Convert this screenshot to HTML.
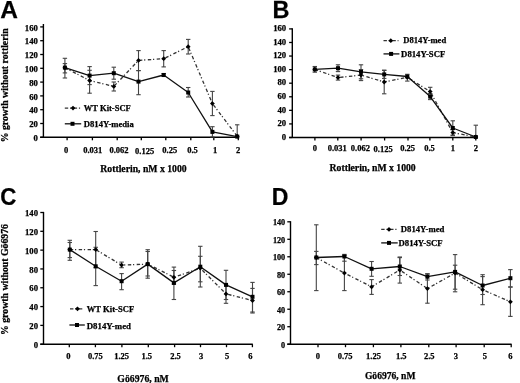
<!DOCTYPE html>
<html><head><meta charset="utf-8"><style>
html,body{margin:0;padding:0;background:#fff;}
body{width:520px;height:383px;overflow:hidden;font-family:"Liberation Serif", serif;}
svg{display:block;will-change:transform;filter:blur(0.3px);}
</style></head><body>
<svg width="520" height="383" viewBox="0 0 520 383">
<rect width="520" height="383" fill="#fff"/>
<line x1="43.40" y1="24.00" x2="43.40" y2="137.80" stroke="#000" stroke-width="1.4"/>
<line x1="40.20" y1="137.30" x2="238.80" y2="137.30" stroke="#000" stroke-width="1.4"/>
<line x1="40.20" y1="137.30" x2="43.40" y2="137.30" stroke="#000" stroke-width="1.3"/>
<text x="37.90" y="140.90" font-family='"Liberation Serif", serif' font-size="8.7" font-weight="bold" text-anchor="end" stroke="#000" stroke-width="0.25">0</text>
<line x1="40.20" y1="123.50" x2="43.40" y2="123.50" stroke="#000" stroke-width="1.3"/>
<text x="37.90" y="127.10" font-family='"Liberation Serif", serif' font-size="8.7" font-weight="bold" text-anchor="end" stroke="#000" stroke-width="0.25">20</text>
<line x1="40.20" y1="109.70" x2="43.40" y2="109.70" stroke="#000" stroke-width="1.3"/>
<text x="37.90" y="113.30" font-family='"Liberation Serif", serif' font-size="8.7" font-weight="bold" text-anchor="end" stroke="#000" stroke-width="0.25">40</text>
<line x1="40.20" y1="95.90" x2="43.40" y2="95.90" stroke="#000" stroke-width="1.3"/>
<text x="37.90" y="99.50" font-family='"Liberation Serif", serif' font-size="8.7" font-weight="bold" text-anchor="end" stroke="#000" stroke-width="0.25">60</text>
<line x1="40.20" y1="82.10" x2="43.40" y2="82.10" stroke="#000" stroke-width="1.3"/>
<text x="37.90" y="85.70" font-family='"Liberation Serif", serif' font-size="8.7" font-weight="bold" text-anchor="end" stroke="#000" stroke-width="0.25">80</text>
<line x1="40.20" y1="68.30" x2="43.40" y2="68.30" stroke="#000" stroke-width="1.3"/>
<text x="37.90" y="71.90" font-family='"Liberation Serif", serif' font-size="8.7" font-weight="bold" text-anchor="end" stroke="#000" stroke-width="0.25">100</text>
<line x1="40.20" y1="54.50" x2="43.40" y2="54.50" stroke="#000" stroke-width="1.3"/>
<text x="37.90" y="58.10" font-family='"Liberation Serif", serif' font-size="8.7" font-weight="bold" text-anchor="end" stroke="#000" stroke-width="0.25">120</text>
<line x1="40.20" y1="40.70" x2="43.40" y2="40.70" stroke="#000" stroke-width="1.3"/>
<text x="37.90" y="44.30" font-family='"Liberation Serif", serif' font-size="8.7" font-weight="bold" text-anchor="end" stroke="#000" stroke-width="0.25">140</text>
<line x1="40.20" y1="26.90" x2="43.40" y2="26.90" stroke="#000" stroke-width="1.3"/>
<text x="37.90" y="30.50" font-family='"Liberation Serif", serif' font-size="8.7" font-weight="bold" text-anchor="end" stroke="#000" stroke-width="0.25">160</text>
<line x1="67.10" y1="137.30" x2="67.10" y2="140.30" stroke="#000" stroke-width="1.3"/>
<line x1="92.40" y1="137.30" x2="92.40" y2="140.30" stroke="#000" stroke-width="1.3"/>
<line x1="117.20" y1="137.30" x2="117.20" y2="140.30" stroke="#000" stroke-width="1.3"/>
<line x1="141.30" y1="137.30" x2="141.30" y2="140.30" stroke="#000" stroke-width="1.3"/>
<line x1="165.80" y1="137.30" x2="165.80" y2="140.30" stroke="#000" stroke-width="1.3"/>
<line x1="190.80" y1="137.30" x2="190.80" y2="140.30" stroke="#000" stroke-width="1.3"/>
<line x1="213.80" y1="137.30" x2="213.80" y2="140.30" stroke="#000" stroke-width="1.3"/>
<line x1="238.30" y1="137.30" x2="238.30" y2="140.30" stroke="#000" stroke-width="1.3"/>
<text x="66.00" y="152.80" font-family='"Liberation Serif", serif' font-size="8.5" font-weight="bold" text-anchor="middle" stroke="#000" stroke-width="0.25">0</text>
<text x="92.70" y="152.80" font-family='"Liberation Serif", serif' font-size="8.5" font-weight="bold" text-anchor="middle" stroke="#000" stroke-width="0.25">0.031</text>
<text x="119.00" y="152.80" font-family='"Liberation Serif", serif' font-size="8.5" font-weight="bold" text-anchor="middle" stroke="#000" stroke-width="0.25">0.062</text>
<text x="144.60" y="153.70" font-family='"Liberation Serif", serif' font-size="8.5" font-weight="bold" text-anchor="middle" stroke="#000" stroke-width="0.25">0.125</text>
<text x="169.80" y="152.80" font-family='"Liberation Serif", serif' font-size="8.5" font-weight="bold" text-anchor="middle" stroke="#000" stroke-width="0.25">0.25</text>
<text x="192.50" y="152.80" font-family='"Liberation Serif", serif' font-size="8.5" font-weight="bold" text-anchor="middle" stroke="#000" stroke-width="0.25">0.5</text>
<text x="215.00" y="152.80" font-family='"Liberation Serif", serif' font-size="8.5" font-weight="bold" text-anchor="middle" stroke="#000" stroke-width="0.25">1</text>
<text x="238.00" y="152.80" font-family='"Liberation Serif", serif' font-size="8.5" font-weight="bold" text-anchor="middle" stroke="#000" stroke-width="0.25">2</text>
<line x1="64.90" y1="58.30" x2="64.90" y2="78.00" stroke="#444" stroke-width="1.1"/>
<line x1="62.70" y1="58.30" x2="67.10" y2="58.30" stroke="#444" stroke-width="1.1"/>
<line x1="62.70" y1="78.00" x2="67.10" y2="78.00" stroke="#444" stroke-width="1.1"/>
<line x1="64.90" y1="63.60" x2="64.90" y2="72.90" stroke="#444" stroke-width="1.1"/>
<line x1="62.70" y1="63.60" x2="67.10" y2="63.60" stroke="#444" stroke-width="1.1"/>
<line x1="62.70" y1="72.90" x2="67.10" y2="72.90" stroke="#444" stroke-width="1.1"/>
<line x1="89.60" y1="66.60" x2="89.60" y2="84.60" stroke="#444" stroke-width="1.1"/>
<line x1="87.40" y1="66.60" x2="91.80" y2="66.60" stroke="#444" stroke-width="1.1"/>
<line x1="87.40" y1="84.60" x2="91.80" y2="84.60" stroke="#444" stroke-width="1.1"/>
<line x1="89.60" y1="70.30" x2="89.60" y2="93.20" stroke="#444" stroke-width="1.1"/>
<line x1="87.40" y1="70.30" x2="91.80" y2="70.30" stroke="#444" stroke-width="1.1"/>
<line x1="87.40" y1="93.20" x2="91.80" y2="93.20" stroke="#444" stroke-width="1.1"/>
<line x1="113.80" y1="67.20" x2="113.80" y2="79.20" stroke="#444" stroke-width="1.1"/>
<line x1="111.60" y1="67.20" x2="116.00" y2="67.20" stroke="#444" stroke-width="1.1"/>
<line x1="111.60" y1="79.20" x2="116.00" y2="79.20" stroke="#444" stroke-width="1.1"/>
<line x1="113.80" y1="82.00" x2="113.80" y2="91.00" stroke="#444" stroke-width="1.1"/>
<line x1="111.60" y1="82.00" x2="116.00" y2="82.00" stroke="#444" stroke-width="1.1"/>
<line x1="111.60" y1="91.00" x2="116.00" y2="91.00" stroke="#444" stroke-width="1.1"/>
<line x1="138.50" y1="50.60" x2="138.50" y2="70.60" stroke="#444" stroke-width="1.1"/>
<line x1="136.30" y1="50.60" x2="140.70" y2="50.60" stroke="#444" stroke-width="1.1"/>
<line x1="136.30" y1="70.60" x2="140.70" y2="70.60" stroke="#444" stroke-width="1.1"/>
<line x1="138.50" y1="70.60" x2="138.50" y2="94.70" stroke="#444" stroke-width="1.1"/>
<line x1="136.30" y1="70.60" x2="140.70" y2="70.60" stroke="#444" stroke-width="1.1"/>
<line x1="136.30" y1="94.70" x2="140.70" y2="94.70" stroke="#444" stroke-width="1.1"/>
<line x1="163.70" y1="50.60" x2="163.70" y2="66.90" stroke="#444" stroke-width="1.1"/>
<line x1="161.50" y1="50.60" x2="165.90" y2="50.60" stroke="#444" stroke-width="1.1"/>
<line x1="161.50" y1="66.90" x2="165.90" y2="66.90" stroke="#444" stroke-width="1.1"/>
<line x1="163.70" y1="73.50" x2="163.70" y2="76.50" stroke="#444" stroke-width="1.1"/>
<line x1="161.50" y1="73.50" x2="165.90" y2="73.50" stroke="#444" stroke-width="1.1"/>
<line x1="161.50" y1="76.50" x2="165.90" y2="76.50" stroke="#444" stroke-width="1.1"/>
<line x1="188.20" y1="39.40" x2="188.20" y2="54.00" stroke="#444" stroke-width="1.1"/>
<line x1="186.00" y1="39.40" x2="190.40" y2="39.40" stroke="#444" stroke-width="1.1"/>
<line x1="186.00" y1="54.00" x2="190.40" y2="54.00" stroke="#444" stroke-width="1.1"/>
<line x1="188.20" y1="87.50" x2="188.20" y2="97.00" stroke="#444" stroke-width="1.1"/>
<line x1="186.00" y1="87.50" x2="190.40" y2="87.50" stroke="#444" stroke-width="1.1"/>
<line x1="186.00" y1="97.00" x2="190.40" y2="97.00" stroke="#444" stroke-width="1.1"/>
<line x1="212.40" y1="91.40" x2="212.40" y2="115.60" stroke="#444" stroke-width="1.1"/>
<line x1="210.20" y1="91.40" x2="214.60" y2="91.40" stroke="#444" stroke-width="1.1"/>
<line x1="210.20" y1="115.60" x2="214.60" y2="115.60" stroke="#444" stroke-width="1.1"/>
<line x1="212.40" y1="126.70" x2="212.40" y2="137.00" stroke="#444" stroke-width="1.1"/>
<line x1="210.20" y1="126.70" x2="214.60" y2="126.70" stroke="#444" stroke-width="1.1"/>
<line x1="210.20" y1="137.00" x2="214.60" y2="137.00" stroke="#444" stroke-width="1.1"/>
<line x1="237.20" y1="124.80" x2="237.20" y2="137.00" stroke="#444" stroke-width="1.1"/>
<line x1="235.00" y1="124.80" x2="239.40" y2="124.80" stroke="#444" stroke-width="1.1"/>
<line x1="235.00" y1="137.00" x2="239.40" y2="137.00" stroke="#444" stroke-width="1.1"/>
<polyline points="64.90,67.80 89.60,80.50 113.80,86.40 138.50,60.40 163.70,58.70 188.20,46.70 212.40,103.60 237.20,136.20" fill="none" stroke="#333" stroke-width="1.3" stroke-dasharray="3.4,1.8,1.2,2.5" stroke-linejoin="round"/>
<polyline points="64.90,67.60 89.60,75.60 113.80,73.20 138.50,81.60 163.70,75.00 188.20,92.50 212.40,131.90 237.20,136.60" fill="none" stroke="#111" stroke-width="1.3" stroke-linejoin="round"/>
<path d="M64.90 65.40L67.30 67.80L64.90 70.20L62.50 67.80Z" fill="#000"/>
<path d="M89.60 78.10L92.00 80.50L89.60 82.90L87.20 80.50Z" fill="#000"/>
<path d="M113.80 84.00L116.20 86.40L113.80 88.80L111.40 86.40Z" fill="#000"/>
<path d="M138.50 58.00L140.90 60.40L138.50 62.80L136.10 60.40Z" fill="#000"/>
<path d="M163.70 56.30L166.10 58.70L163.70 61.10L161.30 58.70Z" fill="#000"/>
<path d="M188.20 44.30L190.60 46.70L188.20 49.10L185.80 46.70Z" fill="#000"/>
<path d="M212.40 101.20L214.80 103.60L212.40 106.00L210.00 103.60Z" fill="#000"/>
<path d="M237.20 133.80L239.60 136.20L237.20 138.60L234.80 136.20Z" fill="#000"/>
<rect x="62.90" y="65.60" width="4.0" height="4.0" fill="#000"/>
<rect x="87.60" y="73.60" width="4.0" height="4.0" fill="#000"/>
<rect x="111.80" y="71.20" width="4.0" height="4.0" fill="#000"/>
<rect x="136.50" y="79.60" width="4.0" height="4.0" fill="#000"/>
<rect x="161.70" y="73.00" width="4.0" height="4.0" fill="#000"/>
<rect x="186.20" y="90.50" width="4.0" height="4.0" fill="#000"/>
<rect x="210.40" y="129.90" width="4.0" height="4.0" fill="#000"/>
<rect x="235.20" y="134.60" width="4.0" height="4.0" fill="#000"/>
<line x1="64.80" y1="108.10" x2="81.20" y2="108.10" stroke="#333" stroke-width="1.3" stroke-dasharray="3.4,1.8,1.2,2.5"/>
<path d="M73.00 105.70L75.40 108.10L73.00 110.50L70.60 108.10Z" fill="#000"/>
<text x="83.80" y="110.50" font-family='"Liberation Serif", serif' font-size="9.1" font-weight="bold" text-anchor="start" textLength="47" lengthAdjust="spacingAndGlyphs" stroke="#000" stroke-width="0.25">WT Kit-SCF</text>
<line x1="64.80" y1="123.80" x2="81.20" y2="123.80" stroke="#111" stroke-width="1.3"/>
<rect x="70.50" y="121.80" width="4.0" height="4.0" fill="#000"/>
<text x="83.80" y="126.70" font-family='"Liberation Serif", serif' font-size="9.1" font-weight="bold" text-anchor="start" textLength="50" lengthAdjust="spacingAndGlyphs" stroke="#000" stroke-width="0.25">D814Y-media</text>
<text x="100.30" y="172.30" font-family='"Liberation Serif", serif' font-size="10" font-weight="bold" text-anchor="start" textLength="86.3" lengthAdjust="spacingAndGlyphs" stroke="#000" stroke-width="0.25">Rottlerin, nM x 1000</text>
<text transform="translate(7.70,142.30) rotate(-90)" font-family='"Liberation Serif", serif' font-size="10" font-weight="bold" stroke="#000" stroke-width="0.25" textLength="114" lengthAdjust="spacingAndGlyphs">% growth without rottlerin</text>
<text transform="translate(0.20,18.00) scale(1.0,1)" font-family='"Liberation Sans", sans-serif' font-size="24.5" font-weight="bold" stroke="#000" stroke-width="0.25">A</text>
<line x1="292.30" y1="28.30" x2="292.30" y2="138.00" stroke="#000" stroke-width="1.4"/>
<line x1="289.10" y1="137.50" x2="476.30" y2="137.50" stroke="#000" stroke-width="1.4"/>
<line x1="289.10" y1="137.50" x2="292.30" y2="137.50" stroke="#000" stroke-width="1.3"/>
<text x="286.20" y="139.70" font-family='"Liberation Serif", serif' font-size="8.7" font-weight="bold" text-anchor="end" stroke="#000" stroke-width="0.25">0</text>
<line x1="289.10" y1="123.92" x2="292.30" y2="123.92" stroke="#000" stroke-width="1.3"/>
<text x="286.20" y="126.12" font-family='"Liberation Serif", serif' font-size="8.7" font-weight="bold" text-anchor="end" stroke="#000" stroke-width="0.25">20</text>
<line x1="289.10" y1="110.35" x2="292.30" y2="110.35" stroke="#000" stroke-width="1.3"/>
<text x="286.20" y="112.55" font-family='"Liberation Serif", serif' font-size="8.7" font-weight="bold" text-anchor="end" stroke="#000" stroke-width="0.25">40</text>
<line x1="289.10" y1="96.78" x2="292.30" y2="96.78" stroke="#000" stroke-width="1.3"/>
<text x="286.20" y="98.98" font-family='"Liberation Serif", serif' font-size="8.7" font-weight="bold" text-anchor="end" stroke="#000" stroke-width="0.25">60</text>
<line x1="289.10" y1="83.20" x2="292.30" y2="83.20" stroke="#000" stroke-width="1.3"/>
<text x="286.20" y="85.40" font-family='"Liberation Serif", serif' font-size="8.7" font-weight="bold" text-anchor="end" stroke="#000" stroke-width="0.25">80</text>
<line x1="289.10" y1="69.62" x2="292.30" y2="69.62" stroke="#000" stroke-width="1.3"/>
<text x="286.20" y="71.83" font-family='"Liberation Serif", serif' font-size="8.7" font-weight="bold" text-anchor="end" stroke="#000" stroke-width="0.25">100</text>
<line x1="289.10" y1="56.05" x2="292.30" y2="56.05" stroke="#000" stroke-width="1.3"/>
<text x="286.20" y="58.25" font-family='"Liberation Serif", serif' font-size="8.7" font-weight="bold" text-anchor="end" stroke="#000" stroke-width="0.25">120</text>
<line x1="289.10" y1="42.48" x2="292.30" y2="42.48" stroke="#000" stroke-width="1.3"/>
<text x="286.20" y="44.68" font-family='"Liberation Serif", serif' font-size="8.7" font-weight="bold" text-anchor="end" stroke="#000" stroke-width="0.25">140</text>
<line x1="289.10" y1="28.90" x2="292.30" y2="28.90" stroke="#000" stroke-width="1.3"/>
<text x="286.20" y="31.10" font-family='"Liberation Serif", serif' font-size="8.7" font-weight="bold" text-anchor="end" stroke="#000" stroke-width="0.25">160</text>
<line x1="314.90" y1="137.50" x2="314.90" y2="140.50" stroke="#000" stroke-width="1.3"/>
<line x1="337.80" y1="137.50" x2="337.80" y2="140.50" stroke="#000" stroke-width="1.3"/>
<line x1="361.10" y1="137.50" x2="361.10" y2="140.50" stroke="#000" stroke-width="1.3"/>
<line x1="384.60" y1="137.50" x2="384.60" y2="140.50" stroke="#000" stroke-width="1.3"/>
<line x1="408.00" y1="137.50" x2="408.00" y2="140.50" stroke="#000" stroke-width="1.3"/>
<line x1="429.90" y1="137.50" x2="429.90" y2="140.50" stroke="#000" stroke-width="1.3"/>
<line x1="452.80" y1="137.50" x2="452.80" y2="140.50" stroke="#000" stroke-width="1.3"/>
<line x1="475.80" y1="137.50" x2="475.80" y2="140.50" stroke="#000" stroke-width="1.3"/>
<text x="314.90" y="151.40" font-family='"Liberation Serif", serif' font-size="8.5" font-weight="bold" text-anchor="middle" stroke="#000" stroke-width="0.25">0</text>
<text x="337.30" y="151.40" font-family='"Liberation Serif", serif' font-size="8.5" font-weight="bold" text-anchor="middle" stroke="#000" stroke-width="0.25">0.031</text>
<text x="360.40" y="151.40" font-family='"Liberation Serif", serif' font-size="8.5" font-weight="bold" text-anchor="middle" stroke="#000" stroke-width="0.25">0.062</text>
<text x="383.10" y="152.30" font-family='"Liberation Serif", serif' font-size="8.5" font-weight="bold" text-anchor="middle" stroke="#000" stroke-width="0.25">0.125</text>
<text x="407.60" y="151.40" font-family='"Liberation Serif", serif' font-size="8.5" font-weight="bold" text-anchor="middle" stroke="#000" stroke-width="0.25">0.25</text>
<text x="429.50" y="151.40" font-family='"Liberation Serif", serif' font-size="8.5" font-weight="bold" text-anchor="middle" stroke="#000" stroke-width="0.25">0.5</text>
<text x="452.80" y="151.40" font-family='"Liberation Serif", serif' font-size="8.5" font-weight="bold" text-anchor="middle" stroke="#000" stroke-width="0.25">1</text>
<text x="475.80" y="151.40" font-family='"Liberation Serif", serif' font-size="8.5" font-weight="bold" text-anchor="middle" stroke="#000" stroke-width="0.25">2</text>
<line x1="314.80" y1="66.50" x2="314.80" y2="72.20" stroke="#444" stroke-width="1.1"/>
<line x1="312.60" y1="66.50" x2="317.00" y2="66.50" stroke="#444" stroke-width="1.1"/>
<line x1="312.60" y1="72.20" x2="317.00" y2="72.20" stroke="#444" stroke-width="1.1"/>
<line x1="338.00" y1="64.80" x2="338.00" y2="71.60" stroke="#444" stroke-width="1.1"/>
<line x1="335.80" y1="64.80" x2="340.20" y2="64.80" stroke="#444" stroke-width="1.1"/>
<line x1="335.80" y1="71.60" x2="340.20" y2="71.60" stroke="#444" stroke-width="1.1"/>
<line x1="338.00" y1="75.10" x2="338.00" y2="80.10" stroke="#444" stroke-width="1.1"/>
<line x1="335.80" y1="75.10" x2="340.20" y2="75.10" stroke="#444" stroke-width="1.1"/>
<line x1="335.80" y1="80.10" x2="340.20" y2="80.10" stroke="#444" stroke-width="1.1"/>
<line x1="361.00" y1="64.80" x2="361.00" y2="78.80" stroke="#444" stroke-width="1.1"/>
<line x1="358.80" y1="64.80" x2="363.20" y2="64.80" stroke="#444" stroke-width="1.1"/>
<line x1="358.80" y1="78.80" x2="363.20" y2="78.80" stroke="#444" stroke-width="1.1"/>
<line x1="361.00" y1="69.60" x2="361.00" y2="80.60" stroke="#444" stroke-width="1.1"/>
<line x1="358.80" y1="69.60" x2="363.20" y2="69.60" stroke="#444" stroke-width="1.1"/>
<line x1="358.80" y1="80.60" x2="363.20" y2="80.60" stroke="#444" stroke-width="1.1"/>
<line x1="384.20" y1="70.40" x2="384.20" y2="78.40" stroke="#444" stroke-width="1.1"/>
<line x1="382.00" y1="70.40" x2="386.40" y2="70.40" stroke="#444" stroke-width="1.1"/>
<line x1="382.00" y1="78.40" x2="386.40" y2="78.40" stroke="#444" stroke-width="1.1"/>
<line x1="384.20" y1="70.20" x2="384.20" y2="93.80" stroke="#444" stroke-width="1.1"/>
<line x1="382.00" y1="70.20" x2="386.40" y2="70.20" stroke="#444" stroke-width="1.1"/>
<line x1="382.00" y1="93.80" x2="386.40" y2="93.80" stroke="#444" stroke-width="1.1"/>
<line x1="407.30" y1="74.30" x2="407.30" y2="81.10" stroke="#444" stroke-width="1.1"/>
<line x1="405.10" y1="74.30" x2="409.50" y2="74.30" stroke="#444" stroke-width="1.1"/>
<line x1="405.10" y1="81.10" x2="409.50" y2="81.10" stroke="#444" stroke-width="1.1"/>
<line x1="430.20" y1="87.30" x2="430.20" y2="95.90" stroke="#444" stroke-width="1.1"/>
<line x1="428.00" y1="87.30" x2="432.40" y2="87.30" stroke="#444" stroke-width="1.1"/>
<line x1="428.00" y1="95.90" x2="432.40" y2="95.90" stroke="#444" stroke-width="1.1"/>
<line x1="430.20" y1="93.60" x2="430.20" y2="99.60" stroke="#444" stroke-width="1.1"/>
<line x1="428.00" y1="93.60" x2="432.40" y2="93.60" stroke="#444" stroke-width="1.1"/>
<line x1="428.00" y1="99.60" x2="432.40" y2="99.60" stroke="#444" stroke-width="1.1"/>
<line x1="452.80" y1="120.80" x2="452.80" y2="135.00" stroke="#444" stroke-width="1.1"/>
<line x1="450.60" y1="120.80" x2="455.00" y2="120.80" stroke="#444" stroke-width="1.1"/>
<line x1="450.60" y1="135.00" x2="455.00" y2="135.00" stroke="#444" stroke-width="1.1"/>
<line x1="452.80" y1="129.60" x2="452.80" y2="135.60" stroke="#444" stroke-width="1.1"/>
<line x1="450.60" y1="129.60" x2="455.00" y2="129.60" stroke="#444" stroke-width="1.1"/>
<line x1="450.60" y1="135.60" x2="455.00" y2="135.60" stroke="#444" stroke-width="1.1"/>
<line x1="475.80" y1="125.20" x2="475.80" y2="137.00" stroke="#444" stroke-width="1.1"/>
<line x1="473.60" y1="125.20" x2="478.00" y2="125.20" stroke="#444" stroke-width="1.1"/>
<line x1="473.60" y1="137.00" x2="478.00" y2="137.00" stroke="#444" stroke-width="1.1"/>
<polyline points="314.80,69.40 338.00,77.60 361.00,75.10 384.20,82.00 407.30,77.30 430.20,91.60 452.80,132.60 475.80,137.00" fill="none" stroke="#333" stroke-width="1.3" stroke-dasharray="3.4,1.8,1.2,2.5" stroke-linejoin="round"/>
<polyline points="314.80,69.40 338.00,68.20 361.00,71.80 384.20,74.40 407.30,76.50 430.20,96.60 452.80,128.00 475.80,137.00" fill="none" stroke="#111" stroke-width="1.3" stroke-linejoin="round"/>
<path d="M314.80 67.00L317.20 69.40L314.80 71.80L312.40 69.40Z" fill="#000"/>
<path d="M338.00 75.20L340.40 77.60L338.00 80.00L335.60 77.60Z" fill="#000"/>
<path d="M361.00 72.70L363.40 75.10L361.00 77.50L358.60 75.10Z" fill="#000"/>
<path d="M384.20 79.60L386.60 82.00L384.20 84.40L381.80 82.00Z" fill="#000"/>
<path d="M407.30 74.90L409.70 77.30L407.30 79.70L404.90 77.30Z" fill="#000"/>
<path d="M430.20 89.20L432.60 91.60L430.20 94.00L427.80 91.60Z" fill="#000"/>
<path d="M452.80 130.20L455.20 132.60L452.80 135.00L450.40 132.60Z" fill="#000"/>
<path d="M475.80 134.60L478.20 137.00L475.80 139.40L473.40 137.00Z" fill="#000"/>
<rect x="312.80" y="67.40" width="4.0" height="4.0" fill="#000"/>
<rect x="336.00" y="66.20" width="4.0" height="4.0" fill="#000"/>
<rect x="359.00" y="69.80" width="4.0" height="4.0" fill="#000"/>
<rect x="382.20" y="72.40" width="4.0" height="4.0" fill="#000"/>
<rect x="405.30" y="74.50" width="4.0" height="4.0" fill="#000"/>
<rect x="428.20" y="94.60" width="4.0" height="4.0" fill="#000"/>
<rect x="450.80" y="126.00" width="4.0" height="4.0" fill="#000"/>
<rect x="473.80" y="135.00" width="4.0" height="4.0" fill="#000"/>
<line x1="383.50" y1="40.70" x2="398.50" y2="40.70" stroke="#333" stroke-width="1.3" stroke-dasharray="3.4,1.8,1.2,2.5"/>
<path d="M390.80 38.30L393.20 40.70L390.80 43.10L388.40 40.70Z" fill="#000"/>
<text x="403.20" y="43.40" font-family='"Liberation Serif", serif' font-size="9.1" font-weight="bold" text-anchor="start" textLength="43" lengthAdjust="spacingAndGlyphs" stroke="#000" stroke-width="0.25">D814Y-med</text>
<line x1="383.50" y1="53.90" x2="399.40" y2="53.90" stroke="#111" stroke-width="1.3"/>
<rect x="389.10" y="51.90" width="4.0" height="4.0" fill="#000"/>
<text x="401.10" y="56.80" font-family='"Liberation Serif", serif' font-size="9.1" font-weight="bold" text-anchor="start" textLength="44.2" lengthAdjust="spacingAndGlyphs" stroke="#000" stroke-width="0.25">D814Y-SCF</text>
<text x="329.60" y="170.80" font-family='"Liberation Serif", serif' font-size="10" font-weight="bold" text-anchor="start" textLength="86.1" lengthAdjust="spacingAndGlyphs" stroke="#000" stroke-width="0.25">Rottlerin, nM x 1000</text>
<text transform="translate(272.50,18.00) scale(0.96,1)" font-family='"Liberation Sans", sans-serif' font-size="24.5" font-weight="bold" stroke="#000" stroke-width="0.25">B</text>
<line x1="43.50" y1="211.90" x2="43.50" y2="344.70" stroke="#000" stroke-width="1.4"/>
<line x1="40.30" y1="344.20" x2="252.80" y2="344.20" stroke="#000" stroke-width="1.4"/>
<line x1="40.30" y1="344.20" x2="43.50" y2="344.20" stroke="#000" stroke-width="1.3"/>
<text x="38.00" y="347.80" font-family='"Liberation Serif", serif' font-size="8.7" font-weight="bold" text-anchor="end" stroke="#000" stroke-width="0.25">0</text>
<line x1="40.30" y1="325.39" x2="43.50" y2="325.39" stroke="#000" stroke-width="1.3"/>
<text x="38.00" y="328.99" font-family='"Liberation Serif", serif' font-size="8.7" font-weight="bold" text-anchor="end" stroke="#000" stroke-width="0.25">20</text>
<line x1="40.30" y1="306.57" x2="43.50" y2="306.57" stroke="#000" stroke-width="1.3"/>
<text x="38.00" y="310.17" font-family='"Liberation Serif", serif' font-size="8.7" font-weight="bold" text-anchor="end" stroke="#000" stroke-width="0.25">40</text>
<line x1="40.30" y1="287.76" x2="43.50" y2="287.76" stroke="#000" stroke-width="1.3"/>
<text x="38.00" y="291.36" font-family='"Liberation Serif", serif' font-size="8.7" font-weight="bold" text-anchor="end" stroke="#000" stroke-width="0.25">60</text>
<line x1="40.30" y1="268.94" x2="43.50" y2="268.94" stroke="#000" stroke-width="1.3"/>
<text x="38.00" y="272.54" font-family='"Liberation Serif", serif' font-size="8.7" font-weight="bold" text-anchor="end" stroke="#000" stroke-width="0.25">80</text>
<line x1="40.30" y1="250.13" x2="43.50" y2="250.13" stroke="#000" stroke-width="1.3"/>
<text x="38.00" y="253.73" font-family='"Liberation Serif", serif' font-size="8.7" font-weight="bold" text-anchor="end" stroke="#000" stroke-width="0.25">100</text>
<line x1="40.30" y1="231.31" x2="43.50" y2="231.31" stroke="#000" stroke-width="1.3"/>
<text x="38.00" y="234.91" font-family='"Liberation Serif", serif' font-size="8.7" font-weight="bold" text-anchor="end" stroke="#000" stroke-width="0.25">120</text>
<line x1="40.30" y1="212.50" x2="43.50" y2="212.50" stroke="#000" stroke-width="1.3"/>
<text x="38.00" y="216.10" font-family='"Liberation Serif", serif' font-size="8.7" font-weight="bold" text-anchor="end" stroke="#000" stroke-width="0.25">140</text>
<line x1="69.30" y1="344.20" x2="69.30" y2="347.20" stroke="#000" stroke-width="1.3"/>
<line x1="95.40" y1="344.20" x2="95.40" y2="347.20" stroke="#000" stroke-width="1.3"/>
<line x1="121.90" y1="344.20" x2="121.90" y2="347.20" stroke="#000" stroke-width="1.3"/>
<line x1="148.30" y1="344.20" x2="148.30" y2="347.20" stroke="#000" stroke-width="1.3"/>
<line x1="174.60" y1="344.20" x2="174.60" y2="347.20" stroke="#000" stroke-width="1.3"/>
<line x1="200.50" y1="344.20" x2="200.50" y2="347.20" stroke="#000" stroke-width="1.3"/>
<line x1="226.50" y1="344.20" x2="226.50" y2="347.20" stroke="#000" stroke-width="1.3"/>
<line x1="252.40" y1="344.20" x2="252.40" y2="347.20" stroke="#000" stroke-width="1.3"/>
<text x="68.40" y="359.40" font-family='"Liberation Serif", serif' font-size="8.5" font-weight="bold" text-anchor="middle" stroke="#000" stroke-width="0.25">0</text>
<text x="95.40" y="359.40" font-family='"Liberation Serif", serif' font-size="8.5" font-weight="bold" text-anchor="middle" stroke="#000" stroke-width="0.25">0.75</text>
<text x="121.60" y="359.40" font-family='"Liberation Serif", serif' font-size="8.5" font-weight="bold" text-anchor="middle" stroke="#000" stroke-width="0.25">1.25</text>
<text x="146.80" y="359.40" font-family='"Liberation Serif", serif' font-size="8.5" font-weight="bold" text-anchor="middle" stroke="#000" stroke-width="0.25">1.5</text>
<text x="175.50" y="359.40" font-family='"Liberation Serif", serif' font-size="8.5" font-weight="bold" text-anchor="middle" stroke="#000" stroke-width="0.25">2.5</text>
<text x="201.20" y="359.40" font-family='"Liberation Serif", serif' font-size="8.5" font-weight="bold" text-anchor="middle" stroke="#000" stroke-width="0.25">3</text>
<text x="227.20" y="359.40" font-family='"Liberation Serif", serif' font-size="8.5" font-weight="bold" text-anchor="middle" stroke="#000" stroke-width="0.25">5</text>
<text x="250.30" y="359.40" font-family='"Liberation Serif", serif' font-size="8.5" font-weight="bold" text-anchor="middle" stroke="#000" stroke-width="0.25">6</text>
<line x1="69.80" y1="240.30" x2="69.80" y2="260.30" stroke="#444" stroke-width="1.1"/>
<line x1="67.60" y1="240.30" x2="72.00" y2="240.30" stroke="#444" stroke-width="1.1"/>
<line x1="67.60" y1="260.30" x2="72.00" y2="260.30" stroke="#444" stroke-width="1.1"/>
<line x1="69.80" y1="242.50" x2="69.80" y2="257.60" stroke="#444" stroke-width="1.1"/>
<line x1="67.60" y1="242.50" x2="72.00" y2="242.50" stroke="#444" stroke-width="1.1"/>
<line x1="67.60" y1="257.60" x2="72.00" y2="257.60" stroke="#444" stroke-width="1.1"/>
<line x1="95.70" y1="231.50" x2="95.70" y2="267.70" stroke="#444" stroke-width="1.1"/>
<line x1="93.50" y1="231.50" x2="97.90" y2="231.50" stroke="#444" stroke-width="1.1"/>
<line x1="93.50" y1="267.70" x2="97.90" y2="267.70" stroke="#444" stroke-width="1.1"/>
<line x1="95.70" y1="247.30" x2="95.70" y2="285.60" stroke="#444" stroke-width="1.1"/>
<line x1="93.50" y1="247.30" x2="97.90" y2="247.30" stroke="#444" stroke-width="1.1"/>
<line x1="93.50" y1="285.60" x2="97.90" y2="285.60" stroke="#444" stroke-width="1.1"/>
<line x1="121.60" y1="262.10" x2="121.60" y2="267.70" stroke="#444" stroke-width="1.1"/>
<line x1="119.40" y1="262.10" x2="123.80" y2="262.10" stroke="#444" stroke-width="1.1"/>
<line x1="119.40" y1="267.70" x2="123.80" y2="267.70" stroke="#444" stroke-width="1.1"/>
<line x1="121.60" y1="273.60" x2="121.60" y2="289.70" stroke="#444" stroke-width="1.1"/>
<line x1="119.40" y1="273.60" x2="123.80" y2="273.60" stroke="#444" stroke-width="1.1"/>
<line x1="119.40" y1="289.70" x2="123.80" y2="289.70" stroke="#444" stroke-width="1.1"/>
<line x1="147.70" y1="249.70" x2="147.70" y2="278.20" stroke="#444" stroke-width="1.1"/>
<line x1="145.50" y1="249.70" x2="149.90" y2="249.70" stroke="#444" stroke-width="1.1"/>
<line x1="145.50" y1="278.20" x2="149.90" y2="278.20" stroke="#444" stroke-width="1.1"/>
<line x1="147.70" y1="251.50" x2="147.70" y2="276.00" stroke="#444" stroke-width="1.1"/>
<line x1="145.50" y1="251.50" x2="149.90" y2="251.50" stroke="#444" stroke-width="1.1"/>
<line x1="145.50" y1="276.00" x2="149.90" y2="276.00" stroke="#444" stroke-width="1.1"/>
<line x1="173.90" y1="267.10" x2="173.90" y2="299.50" stroke="#444" stroke-width="1.1"/>
<line x1="171.70" y1="267.10" x2="176.10" y2="267.10" stroke="#444" stroke-width="1.1"/>
<line x1="171.70" y1="299.50" x2="176.10" y2="299.50" stroke="#444" stroke-width="1.1"/>
<line x1="173.90" y1="270.50" x2="173.90" y2="284.00" stroke="#444" stroke-width="1.1"/>
<line x1="171.70" y1="270.50" x2="176.10" y2="270.50" stroke="#444" stroke-width="1.1"/>
<line x1="171.70" y1="284.00" x2="176.10" y2="284.00" stroke="#444" stroke-width="1.1"/>
<line x1="200.30" y1="246.30" x2="200.30" y2="287.00" stroke="#444" stroke-width="1.1"/>
<line x1="198.10" y1="246.30" x2="202.50" y2="246.30" stroke="#444" stroke-width="1.1"/>
<line x1="198.10" y1="287.00" x2="202.50" y2="287.00" stroke="#444" stroke-width="1.1"/>
<line x1="200.30" y1="256.30" x2="200.30" y2="281.80" stroke="#444" stroke-width="1.1"/>
<line x1="198.10" y1="256.30" x2="202.50" y2="256.30" stroke="#444" stroke-width="1.1"/>
<line x1="198.10" y1="281.80" x2="202.50" y2="281.80" stroke="#444" stroke-width="1.1"/>
<line x1="226.00" y1="270.30" x2="226.00" y2="299.50" stroke="#444" stroke-width="1.1"/>
<line x1="223.80" y1="270.30" x2="228.20" y2="270.30" stroke="#444" stroke-width="1.1"/>
<line x1="223.80" y1="299.50" x2="228.20" y2="299.50" stroke="#444" stroke-width="1.1"/>
<line x1="226.00" y1="284.30" x2="226.00" y2="303.30" stroke="#444" stroke-width="1.1"/>
<line x1="223.80" y1="284.30" x2="228.20" y2="284.30" stroke="#444" stroke-width="1.1"/>
<line x1="223.80" y1="303.30" x2="228.20" y2="303.30" stroke="#444" stroke-width="1.1"/>
<line x1="252.50" y1="282.40" x2="252.50" y2="313.00" stroke="#444" stroke-width="1.1"/>
<line x1="250.30" y1="282.40" x2="254.70" y2="282.40" stroke="#444" stroke-width="1.1"/>
<line x1="250.30" y1="313.00" x2="254.70" y2="313.00" stroke="#444" stroke-width="1.1"/>
<line x1="252.50" y1="288.40" x2="252.50" y2="312.00" stroke="#444" stroke-width="1.1"/>
<line x1="250.30" y1="288.40" x2="254.70" y2="288.40" stroke="#444" stroke-width="1.1"/>
<line x1="250.30" y1="312.00" x2="254.70" y2="312.00" stroke="#444" stroke-width="1.1"/>
<polyline points="69.80,249.60 95.70,249.60 121.60,265.10 147.70,264.10 173.90,277.30 200.30,268.20 226.00,293.90 252.50,300.50" fill="none" stroke="#333" stroke-width="1.3" stroke-dasharray="3.4,1.8,1.2,2.5" stroke-linejoin="round"/>
<polyline points="69.80,249.60 95.70,266.30 121.60,281.20 147.70,264.10 173.90,282.90 200.30,266.70 226.00,284.90 252.50,296.80" fill="none" stroke="#111" stroke-width="1.3" stroke-linejoin="round"/>
<path d="M69.80 247.20L72.20 249.60L69.80 252.00L67.40 249.60Z" fill="#000"/>
<path d="M95.70 247.20L98.10 249.60L95.70 252.00L93.30 249.60Z" fill="#000"/>
<path d="M121.60 262.70L124.00 265.10L121.60 267.50L119.20 265.10Z" fill="#000"/>
<path d="M147.70 261.70L150.10 264.10L147.70 266.50L145.30 264.10Z" fill="#000"/>
<path d="M173.90 274.90L176.30 277.30L173.90 279.70L171.50 277.30Z" fill="#000"/>
<path d="M200.30 265.80L202.70 268.20L200.30 270.60L197.90 268.20Z" fill="#000"/>
<path d="M226.00 291.50L228.40 293.90L226.00 296.30L223.60 293.90Z" fill="#000"/>
<path d="M252.50 298.10L254.90 300.50L252.50 302.90L250.10 300.50Z" fill="#000"/>
<rect x="67.80" y="247.60" width="4.0" height="4.0" fill="#000"/>
<rect x="93.70" y="264.30" width="4.0" height="4.0" fill="#000"/>
<rect x="119.60" y="279.20" width="4.0" height="4.0" fill="#000"/>
<rect x="145.70" y="262.10" width="4.0" height="4.0" fill="#000"/>
<rect x="171.90" y="280.90" width="4.0" height="4.0" fill="#000"/>
<rect x="198.30" y="264.70" width="4.0" height="4.0" fill="#000"/>
<rect x="224.00" y="282.90" width="4.0" height="4.0" fill="#000"/>
<rect x="250.50" y="294.80" width="4.0" height="4.0" fill="#000"/>
<line x1="70.00" y1="308.80" x2="83.80" y2="308.80" stroke="#333" stroke-width="1.3" stroke-dasharray="3.4,1.8,1.2,2.5"/>
<path d="M77.50 306.40L79.90 308.80L77.50 311.20L75.10 308.80Z" fill="#000"/>
<text x="86.70" y="312.20" font-family='"Liberation Serif", serif' font-size="9.1" font-weight="bold" text-anchor="start" textLength="47.5" lengthAdjust="spacingAndGlyphs" stroke="#000" stroke-width="0.25">WT Kit-SCF</text>
<line x1="69.40" y1="325.00" x2="84.80" y2="325.00" stroke="#111" stroke-width="1.3"/>
<rect x="75.00" y="323.00" width="4.0" height="4.0" fill="#000"/>
<text x="86.70" y="328.60" font-family='"Liberation Serif", serif' font-size="9.1" font-weight="bold" text-anchor="start" textLength="44.3" lengthAdjust="spacingAndGlyphs" stroke="#000" stroke-width="0.25">D814Y-med</text>
<text x="117.30" y="381.60" font-family='"Liberation Serif", serif' font-size="10" font-weight="bold" text-anchor="start" textLength="51.5" lengthAdjust="spacingAndGlyphs" stroke="#000" stroke-width="0.25">Gö6976, nM</text>
<text transform="translate(7.60,335.00) rotate(-90)" font-family='"Liberation Serif", serif' font-size="10" font-weight="bold" stroke="#000" stroke-width="0.25" textLength="111" lengthAdjust="spacingAndGlyphs">% growth without Gö6976</text>
<text transform="translate(0.30,204.60) scale(0.91,1)" font-family='"Liberation Sans", sans-serif' font-size="24.5" font-weight="bold" stroke="#000" stroke-width="0.25">C</text>
<line x1="290.50" y1="221.20" x2="290.50" y2="344.70" stroke="#000" stroke-width="1.4"/>
<line x1="287.30" y1="344.20" x2="511.60" y2="344.20" stroke="#000" stroke-width="1.4"/>
<line x1="287.30" y1="344.20" x2="290.50" y2="344.20" stroke="#000" stroke-width="1.3"/>
<text x="285.20" y="347.70" font-family='"Liberation Serif", serif' font-size="8.2" font-weight="bold" text-anchor="end" stroke="#000" stroke-width="0.25">0</text>
<line x1="287.30" y1="326.71" x2="290.50" y2="326.71" stroke="#000" stroke-width="1.3"/>
<text x="285.20" y="330.21" font-family='"Liberation Serif", serif' font-size="8.2" font-weight="bold" text-anchor="end" stroke="#000" stroke-width="0.25">20</text>
<line x1="287.30" y1="309.23" x2="290.50" y2="309.23" stroke="#000" stroke-width="1.3"/>
<text x="285.20" y="312.73" font-family='"Liberation Serif", serif' font-size="8.2" font-weight="bold" text-anchor="end" stroke="#000" stroke-width="0.25">40</text>
<line x1="287.30" y1="291.74" x2="290.50" y2="291.74" stroke="#000" stroke-width="1.3"/>
<text x="285.20" y="295.24" font-family='"Liberation Serif", serif' font-size="8.2" font-weight="bold" text-anchor="end" stroke="#000" stroke-width="0.25">60</text>
<line x1="287.30" y1="274.26" x2="290.50" y2="274.26" stroke="#000" stroke-width="1.3"/>
<text x="285.20" y="277.76" font-family='"Liberation Serif", serif' font-size="8.2" font-weight="bold" text-anchor="end" stroke="#000" stroke-width="0.25">80</text>
<line x1="287.30" y1="256.77" x2="290.50" y2="256.77" stroke="#000" stroke-width="1.3"/>
<text x="285.20" y="260.27" font-family='"Liberation Serif", serif' font-size="8.2" font-weight="bold" text-anchor="end" stroke="#000" stroke-width="0.25">100</text>
<line x1="287.30" y1="239.29" x2="290.50" y2="239.29" stroke="#000" stroke-width="1.3"/>
<text x="285.20" y="242.79" font-family='"Liberation Serif", serif' font-size="8.2" font-weight="bold" text-anchor="end" stroke="#000" stroke-width="0.25">120</text>
<line x1="287.30" y1="221.80" x2="290.50" y2="221.80" stroke="#000" stroke-width="1.3"/>
<text x="285.20" y="225.30" font-family='"Liberation Serif", serif' font-size="8.2" font-weight="bold" text-anchor="end" stroke="#000" stroke-width="0.25">140</text>
<line x1="318.00" y1="344.20" x2="318.00" y2="347.20" stroke="#000" stroke-width="1.3"/>
<line x1="345.50" y1="344.20" x2="345.50" y2="347.20" stroke="#000" stroke-width="1.3"/>
<line x1="373.40" y1="344.20" x2="373.40" y2="347.20" stroke="#000" stroke-width="1.3"/>
<line x1="400.90" y1="344.20" x2="400.90" y2="347.20" stroke="#000" stroke-width="1.3"/>
<line x1="428.80" y1="344.20" x2="428.80" y2="347.20" stroke="#000" stroke-width="1.3"/>
<line x1="456.10" y1="344.20" x2="456.10" y2="347.20" stroke="#000" stroke-width="1.3"/>
<line x1="484.20" y1="344.20" x2="484.20" y2="347.20" stroke="#000" stroke-width="1.3"/>
<line x1="511.20" y1="344.20" x2="511.20" y2="347.20" stroke="#000" stroke-width="1.3"/>
<text x="317.80" y="359.30" font-family='"Liberation Serif", serif' font-size="8.5" font-weight="bold" text-anchor="middle" stroke="#000" stroke-width="0.25">0</text>
<text x="345.10" y="359.30" font-family='"Liberation Serif", serif' font-size="8.5" font-weight="bold" text-anchor="middle" stroke="#000" stroke-width="0.25">0.75</text>
<text x="373.50" y="359.30" font-family='"Liberation Serif", serif' font-size="8.5" font-weight="bold" text-anchor="middle" stroke="#000" stroke-width="0.25">1.25</text>
<text x="401.30" y="359.30" font-family='"Liberation Serif", serif' font-size="8.5" font-weight="bold" text-anchor="middle" stroke="#000" stroke-width="0.25">1.5</text>
<text x="429.20" y="359.30" font-family='"Liberation Serif", serif' font-size="8.5" font-weight="bold" text-anchor="middle" stroke="#000" stroke-width="0.25">2.5</text>
<text x="455.80" y="359.30" font-family='"Liberation Serif", serif' font-size="8.5" font-weight="bold" text-anchor="middle" stroke="#000" stroke-width="0.25">3</text>
<text x="484.90" y="359.30" font-family='"Liberation Serif", serif' font-size="8.5" font-weight="bold" text-anchor="middle" stroke="#000" stroke-width="0.25">5</text>
<text x="510.30" y="359.30" font-family='"Liberation Serif", serif' font-size="8.5" font-weight="bold" text-anchor="middle" stroke="#000" stroke-width="0.25">6</text>
<line x1="316.30" y1="224.80" x2="316.30" y2="290.60" stroke="#444" stroke-width="1.1"/>
<line x1="314.10" y1="224.80" x2="318.50" y2="224.80" stroke="#444" stroke-width="1.1"/>
<line x1="314.10" y1="290.60" x2="318.50" y2="290.60" stroke="#444" stroke-width="1.1"/>
<line x1="316.30" y1="251.40" x2="316.30" y2="264.60" stroke="#444" stroke-width="1.1"/>
<line x1="314.10" y1="251.40" x2="318.50" y2="251.40" stroke="#444" stroke-width="1.1"/>
<line x1="314.10" y1="264.60" x2="318.50" y2="264.60" stroke="#444" stroke-width="1.1"/>
<line x1="344.40" y1="254.40" x2="344.40" y2="261.20" stroke="#444" stroke-width="1.1"/>
<line x1="342.20" y1="254.40" x2="346.60" y2="254.40" stroke="#444" stroke-width="1.1"/>
<line x1="342.20" y1="261.20" x2="346.60" y2="261.20" stroke="#444" stroke-width="1.1"/>
<line x1="344.40" y1="255.60" x2="344.40" y2="290.60" stroke="#444" stroke-width="1.1"/>
<line x1="342.20" y1="255.60" x2="346.60" y2="255.60" stroke="#444" stroke-width="1.1"/>
<line x1="342.20" y1="290.60" x2="346.60" y2="290.60" stroke="#444" stroke-width="1.1"/>
<line x1="371.60" y1="261.50" x2="371.60" y2="276.30" stroke="#444" stroke-width="1.1"/>
<line x1="369.40" y1="261.50" x2="373.80" y2="261.50" stroke="#444" stroke-width="1.1"/>
<line x1="369.40" y1="276.30" x2="373.80" y2="276.30" stroke="#444" stroke-width="1.1"/>
<line x1="371.60" y1="279.60" x2="371.60" y2="294.40" stroke="#444" stroke-width="1.1"/>
<line x1="369.40" y1="279.60" x2="373.80" y2="279.60" stroke="#444" stroke-width="1.1"/>
<line x1="369.40" y1="294.40" x2="373.80" y2="294.40" stroke="#444" stroke-width="1.1"/>
<line x1="399.80" y1="257.60" x2="399.80" y2="275.50" stroke="#444" stroke-width="1.1"/>
<line x1="397.60" y1="257.60" x2="402.00" y2="257.60" stroke="#444" stroke-width="1.1"/>
<line x1="397.60" y1="275.50" x2="402.00" y2="275.50" stroke="#444" stroke-width="1.1"/>
<line x1="399.80" y1="257.00" x2="399.80" y2="283.10" stroke="#444" stroke-width="1.1"/>
<line x1="397.60" y1="257.00" x2="402.00" y2="257.00" stroke="#444" stroke-width="1.1"/>
<line x1="397.60" y1="283.10" x2="402.00" y2="283.10" stroke="#444" stroke-width="1.1"/>
<line x1="427.40" y1="273.70" x2="427.40" y2="280.00" stroke="#444" stroke-width="1.1"/>
<line x1="425.20" y1="273.70" x2="429.60" y2="273.70" stroke="#444" stroke-width="1.1"/>
<line x1="425.20" y1="280.00" x2="429.60" y2="280.00" stroke="#444" stroke-width="1.1"/>
<line x1="427.40" y1="274.00" x2="427.40" y2="303.20" stroke="#444" stroke-width="1.1"/>
<line x1="425.20" y1="274.00" x2="429.60" y2="274.00" stroke="#444" stroke-width="1.1"/>
<line x1="425.20" y1="303.20" x2="429.60" y2="303.20" stroke="#444" stroke-width="1.1"/>
<line x1="455.10" y1="254.60" x2="455.10" y2="289.20" stroke="#444" stroke-width="1.1"/>
<line x1="452.90" y1="254.60" x2="457.30" y2="254.60" stroke="#444" stroke-width="1.1"/>
<line x1="452.90" y1="289.20" x2="457.30" y2="289.20" stroke="#444" stroke-width="1.1"/>
<line x1="455.10" y1="265.20" x2="455.10" y2="291.80" stroke="#444" stroke-width="1.1"/>
<line x1="452.90" y1="265.20" x2="457.30" y2="265.20" stroke="#444" stroke-width="1.1"/>
<line x1="452.90" y1="291.80" x2="457.30" y2="291.80" stroke="#444" stroke-width="1.1"/>
<line x1="482.60" y1="276.60" x2="482.60" y2="294.50" stroke="#444" stroke-width="1.1"/>
<line x1="480.40" y1="276.60" x2="484.80" y2="276.60" stroke="#444" stroke-width="1.1"/>
<line x1="480.40" y1="294.50" x2="484.80" y2="294.50" stroke="#444" stroke-width="1.1"/>
<line x1="482.60" y1="274.70" x2="482.60" y2="304.70" stroke="#444" stroke-width="1.1"/>
<line x1="480.40" y1="274.70" x2="484.80" y2="274.70" stroke="#444" stroke-width="1.1"/>
<line x1="480.40" y1="304.70" x2="484.80" y2="304.70" stroke="#444" stroke-width="1.1"/>
<line x1="510.40" y1="269.60" x2="510.40" y2="286.80" stroke="#444" stroke-width="1.1"/>
<line x1="508.20" y1="269.60" x2="512.60" y2="269.60" stroke="#444" stroke-width="1.1"/>
<line x1="508.20" y1="286.80" x2="512.60" y2="286.80" stroke="#444" stroke-width="1.1"/>
<line x1="510.40" y1="287.20" x2="510.40" y2="316.40" stroke="#444" stroke-width="1.1"/>
<line x1="508.20" y1="287.20" x2="512.60" y2="287.20" stroke="#444" stroke-width="1.1"/>
<line x1="508.20" y1="316.40" x2="512.60" y2="316.40" stroke="#444" stroke-width="1.1"/>
<polyline points="316.30,257.50 344.40,273.10 371.60,286.80 399.80,270.00 427.40,288.60 455.10,273.00 482.60,289.70 510.40,301.80" fill="none" stroke="#333" stroke-width="1.3" stroke-dasharray="3.4,1.8,1.2,2.5" stroke-linejoin="round"/>
<polyline points="316.30,257.50 344.40,256.50 371.60,268.80 399.80,266.50 427.40,276.70 455.10,271.90 482.60,285.50 510.40,278.20" fill="none" stroke="#111" stroke-width="1.3" stroke-linejoin="round"/>
<path d="M316.30 255.10L318.70 257.50L316.30 259.90L313.90 257.50Z" fill="#000"/>
<path d="M344.40 270.70L346.80 273.10L344.40 275.50L342.00 273.10Z" fill="#000"/>
<path d="M371.60 284.40L374.00 286.80L371.60 289.20L369.20 286.80Z" fill="#000"/>
<path d="M399.80 267.60L402.20 270.00L399.80 272.40L397.40 270.00Z" fill="#000"/>
<path d="M427.40 286.20L429.80 288.60L427.40 291.00L425.00 288.60Z" fill="#000"/>
<path d="M455.10 270.60L457.50 273.00L455.10 275.40L452.70 273.00Z" fill="#000"/>
<path d="M482.60 287.30L485.00 289.70L482.60 292.10L480.20 289.70Z" fill="#000"/>
<path d="M510.40 299.40L512.80 301.80L510.40 304.20L508.00 301.80Z" fill="#000"/>
<rect x="314.30" y="255.50" width="4.0" height="4.0" fill="#000"/>
<rect x="342.40" y="254.50" width="4.0" height="4.0" fill="#000"/>
<rect x="369.60" y="266.80" width="4.0" height="4.0" fill="#000"/>
<rect x="397.80" y="264.50" width="4.0" height="4.0" fill="#000"/>
<rect x="425.40" y="274.70" width="4.0" height="4.0" fill="#000"/>
<rect x="453.10" y="269.90" width="4.0" height="4.0" fill="#000"/>
<rect x="480.60" y="283.50" width="4.0" height="4.0" fill="#000"/>
<rect x="508.40" y="276.20" width="4.0" height="4.0" fill="#000"/>
<line x1="381.20" y1="229.40" x2="396.80" y2="229.40" stroke="#333" stroke-width="1.3" stroke-dasharray="3.4,1.8,1.2,2.5"/>
<path d="M389.00 227.00L391.40 229.40L389.00 231.80L386.60 229.40Z" fill="#000"/>
<text x="400.80" y="232.20" font-family='"Liberation Serif", serif' font-size="9.1" font-weight="bold" text-anchor="start" textLength="43.6" lengthAdjust="spacingAndGlyphs" stroke="#000" stroke-width="0.25">D814Y-med</text>
<line x1="381.20" y1="242.90" x2="397.70" y2="242.90" stroke="#111" stroke-width="1.3"/>
<rect x="387.00" y="240.90" width="4.0" height="4.0" fill="#000"/>
<text x="398.50" y="246.10" font-family='"Liberation Serif", serif' font-size="9.1" font-weight="bold" text-anchor="start" textLength="44.2" lengthAdjust="spacingAndGlyphs" stroke="#000" stroke-width="0.25">D814Y-SCF</text>
<text x="364.90" y="378.80" font-family='"Liberation Serif", serif' font-size="10" font-weight="bold" text-anchor="start" textLength="50.6" lengthAdjust="spacingAndGlyphs" stroke="#000" stroke-width="0.25">Gö6976, nM</text>
<text transform="translate(271.80,205.20) scale(0.94,1)" font-family='"Liberation Sans", sans-serif' font-size="24.5" font-weight="bold" stroke="#000" stroke-width="0.25">D</text>
</svg>
</body></html>
